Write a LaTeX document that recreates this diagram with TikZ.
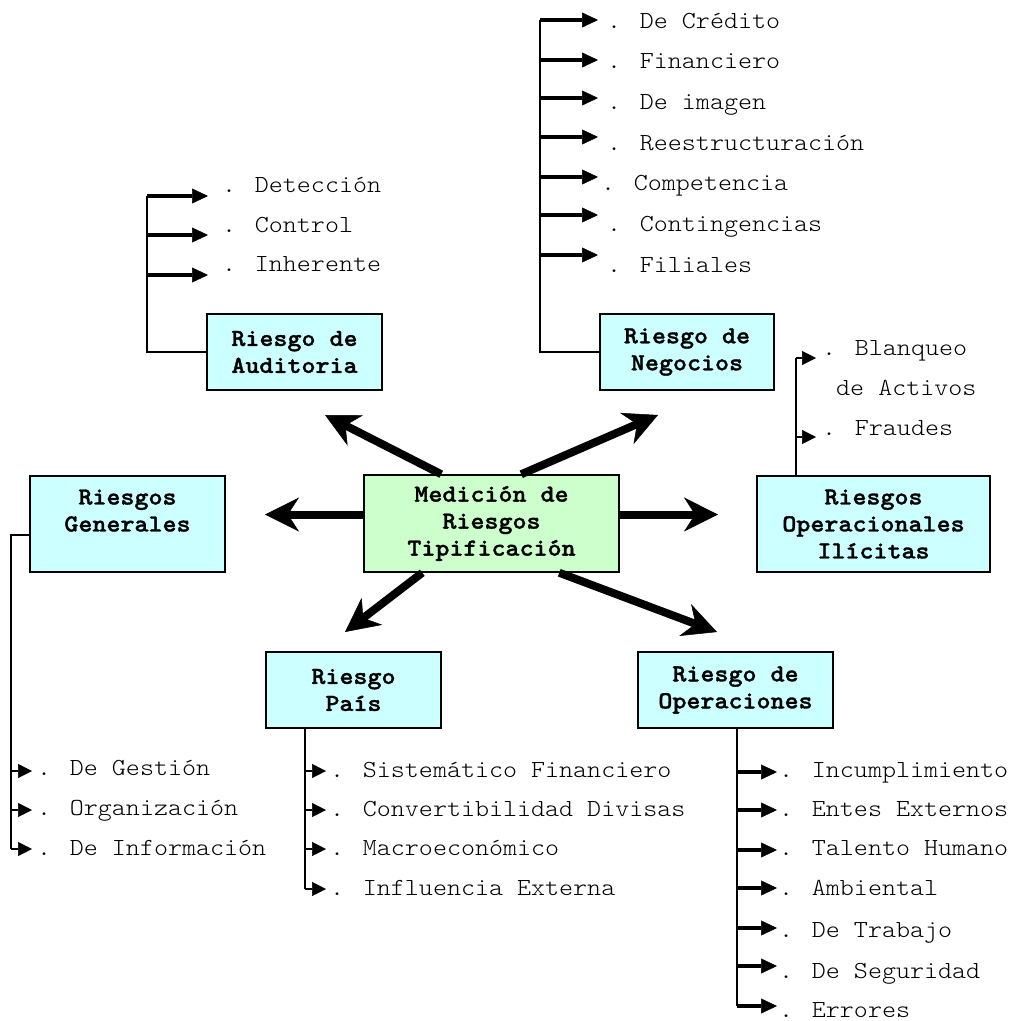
\documentclass[tikz,border=0pt]{standalone}
\usepackage{fontspec}
\usetikzlibrary{arrows.meta}
% light typewriter face, widened to the 0.6em advance of a classic typewriter font
\newfontfamily\cour{lmmonolt10-regular}[Extension=.otf,
  UprightFont=lmmonolt10-regular, BoldFont=lmmonolt10-bold,
  FakeStretch=1.09, BoldFeatures={FakeBold=1.3}]
\definecolor{cyanbox}{HTML}{CCFFFF}
\definecolor{greenbox}{HTML}{CCFFCC}
\begin{document}
\begin{tikzpicture}[x=1pt,y=-1pt,
  box/.style={draw=black, line width=1.5pt, inner sep=0pt, align=center,
    font=\cour\bfseries\fontsize{24.5}{27}\selectfont},
  item/.style={anchor=base west, inner sep=0pt, xshift=-3pt,
    font=\cour\fontsize{24.5}{27}\selectfont},
  bigarrow/.style={line width=8pt,
    -{Stealth[length=34pt,width=34pt,inset=11pt,line width=0.5pt]}},
  brarrow/.style={line width=3.2pt,
    -{Triangle[length=16pt,width=15pt,line width=0.5pt]}},
  smarrow/.style={line width=2pt,
    -{Triangle[length=14pt,width=14pt,line width=0.5pt]}},
  spine/.style={line width=1.5pt}]
\useasboundingbox (0,0) rectangle (1015,1021);

% boxes
\node[box, fill=cyanbox, minimum width=175pt, minimum height=76pt] (aud) at (294.5,352) {Riesgo de\\Auditoria};
\node[box, fill=cyanbox, minimum width=174pt, minimum height=76pt] (neg) at (687,352) {Riesgo de\\Negocios};
\node[box, fill=cyanbox, minimum width=195pt, minimum height=96pt] (gen) at (127.5,524) {Riesgos\\Generales\\\mbox{}};
\node[box, fill=greenbox, minimum width=255pt, minimum height=97pt] (med) at (491.5,523.5) {Medición de\\Riesgos\\Tipificación};
\node[box, fill=cyanbox, minimum width=233pt, minimum height=96pt] (ili) at (873.5,524) {Riesgos\\Operacionales\\Ilícitas};
\node[box, fill=cyanbox, minimum width=175pt, minimum height=76pt] (pai) at (353.5,690) {Riesgo\\País};
\node[box, fill=cyanbox, minimum width=195pt, minimum height=76pt] (ope) at (735.5,690) {Riesgo de\\Operaciones};

% thick arrows out of the central box
\coordinate (tUL) at (325,415);
\coordinate (tUR) at (658,415);
\coordinate (tL) at (265,514.5);
\coordinate (tR) at (718,514.5);
\coordinate (tDL) at (345,632);
\coordinate (tDR) at (717,632);
\draw[bigarrow] ([xshift=78pt]med.north west) -- (tUL);
\draw[bigarrow] ([xshift=158pt]med.north west) -- (tUR);
\draw[bigarrow] ([yshift=9pt]med.west) -- (tL);
\draw[bigarrow] ([yshift=9pt]med.east) -- (tR);
\draw[bigarrow] ([xshift=59pt]med.south west) -- (tDL);
\draw[bigarrow] ([xshift=196pt]med.south west) -- (tDR);

% Riesgo de Auditoria
\coordinate (audtop) at (147,196);
\draw[spine] (aud.west) -| (audtop);
\foreach \yy [count=\k] in {196,235,275} {
  \coordinate (aud-a\k) at (147,\yy);
  \coordinate (aud-b\k) at (208,\yy);
  \draw[brarrow] (aud-a\k) -- (aud-b\k);
}
\foreach \yy/\txt [count=\k] in {192/Detección, 232/Control, 271/Inherente}
  \node[item] (aud-t\k) at (225,\yy) {. \txt};

% Riesgo de Negocios
\coordinate (negtop) at (540,20);
\draw[spine] (neg.west) -| (negtop);
\foreach \yy [count=\k] in {20,60,98,137,177,215,255} {
  \coordinate (neg-a\k) at (540,\yy);
  \coordinate (neg-b\k) at (598,\yy);
  \draw[brarrow] (neg-a\k) -- (neg-b\k);
}
\foreach \xx/\yy/\txt [count=\k] in {610/28/De Crédito, 610/68.7/Financiero,
    610/109.3/De imagen, 610/150/Reestructuración, 604/190.6/Competencia,
    610/231.3/Contingencias, 610/272/Filiales}
  \node[item] (neg-t\k) at (\xx,\yy) {. \txt};

% Riesgos Operacionales Ilicitas
\coordinate (ilitop) at (796,358);
\draw[line width=2pt] (ili.north -| ilitop) -- (ilitop);
\foreach \yy [count=\k] in {358,437} {
  \coordinate (ili-a\k) at (796,\yy);
  \coordinate (ili-b\k) at (816,\yy);
  \draw[smarrow] (ili-a\k) -- (ili-b\k);
}
\node[item] (ili-t1) at (825,355) {. Blanqueo};
\node[item] (ili-t2) at (839,395) {de Activos};
\node[item] (ili-t3) at (825,435) {. Fraudes};

% Riesgos Generales
\coordinate (genbot) at (11,849);
\draw[line width=1.2pt] ([yshift=-11pt]gen.west) -| (genbot);
\foreach \yy [count=\k] in {771,810,849} {
  \coordinate (gen-a\k) at (11,\yy);
  \coordinate (gen-b\k) at (32,\yy);
  \draw[smarrow, line width=1.5pt] (gen-a\k) -- (gen-b\k);
}
\foreach \yy/\txt [count=\k] in {775/De Gestión, 815/Organización, 855/De Información}
  \node[item] (gen-t\k) at (40,\yy) {. \txt};

% Riesgo Pais
\coordinate (paibot) at (305,889);
\draw[line width=2pt] (pai.south -| paibot) -- (paibot);
\foreach \yy [count=\k] in {771,810,849,889} {
  \coordinate (pai-a\k) at (305,\yy);
  \coordinate (pai-b\k) at (326,\yy);
  \draw[smarrow] (pai-a\k) -- (pai-b\k);
}
\foreach \yy/\txt [count=\k] in {777/Sistemático Financiero, 816/Convertibilidad Divisas,
    855/Macroeconómico, 895/Influencia Externa}
  \node[item] (pai-t\k) at (333,\yy) {. \txt};

% Riesgo de Operaciones
\coordinate (opebot) at (737,1006);
\draw[spine] (ope.south -| opebot) -- (opebot);
\foreach \yy [count=\k] in {772,810,850,888,928,966,1006} {
  \coordinate (ope-a\k) at (737,\yy);
  \coordinate (ope-b\k) at (777,\yy);
  \draw[brarrow] (ope-a\k) -- (ope-b\k);
}
\foreach \yy/\txt [count=\k] in {777/Incumplimiento, 816/Entes Externos,
    855/Talento Humano, 895/Ambiental, 937/De Trabajo, 978/De Seguridad, 1017/Errores}
  \node[item] (ope-t\k) at (782,\yy) {. \txt};
\end{tikzpicture}
\end{document}
